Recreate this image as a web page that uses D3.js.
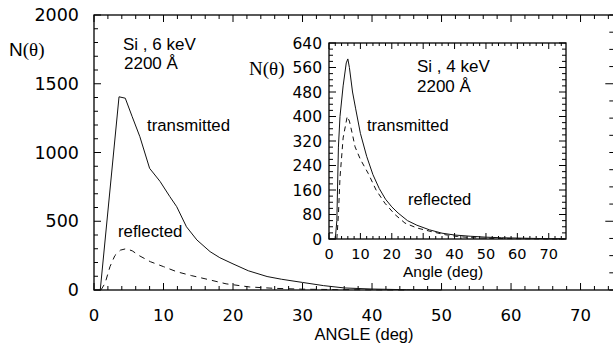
<!DOCTYPE html>
<html>
<head>
<meta charset="utf-8">
<script src="https://cdn.jsdelivr.net/npm/d3@7"></script>
<style>
  html, body { margin: 0; padding: 0; background: #fff; }
  svg { display: block; font-family: "Liberation Sans", Arial, sans-serif; }
  .num { font-family: "DejaVu Sans", sans-serif; }
</style>
</head>
<body>
<svg id="chart" width="613" height="347"></svg>
<script>
// Angular distribution N(θ) of sputtered/scattered particles, Si target, 2200 Å
// Main panel: 6 keV ; inset: 4 keV.  Each series is [angle (deg), N(θ)].
const mainTransmitted = [
  [0, 0], [0.9, 0], [3.6, 1405], [4.5, 1395], [5.5, 1260], [6.6, 1115], [8, 885],
  [9.5, 790], [10.9, 680], [11.9, 606], [13.3, 460], [14.8, 364], [16.7, 279],
  [18.1, 235], [20, 190], [22.2, 140], [24.9, 98], [27, 78], [30, 55], [33, 32],
  [36, 15], [40, 7], [45, 2], [50, 0]
];
const mainReflected = [
  [1.0, 0], [1.6, 50], [2.3, 170], [3, 250], [3.8, 290], [4.6, 300], [5.5, 285],
  [6.5, 250], [8.1, 206], [10, 170], [11.9, 133], [14, 105], [16.7, 73], [19, 45],
  [22.4, 22], [26, 12], [30, 6], [35, 3], [40, 1], [45, 0]
];
const insetTransmitted = [
  [0, 0], [2, 0], [2.5, 60], [3, 300], [3.5, 400], [4.5, 500], [5.5, 575], [6, 588],
  [6.5, 560], [7.5, 480], [8.5, 425], [10, 345], [12, 270], [14, 210], [16, 165],
  [18, 130], [20, 105], [22, 85], [25, 60], [28, 45], [32, 30], [36, 19], [40, 13],
  [45, 9], [50, 6], [55, 4], [60, 3], [65, 2], [70, 1], [75, 1]
];
const insetReflected = [
  [2.5, 0], [3, 80], [3.5, 200], [4.5, 330], [5.8, 400], [6.5, 385], [7.5, 340],
  [8.3, 301], [10, 260], [12.5, 214], [15, 160], [17.8, 117], [21, 80], [24.2, 52],
  [28, 36], [32.7, 24], [37, 14], [41, 8], [46, 4], [52, 2], [60, 1], [70, 0], [75, 0]
];

const mainXTicks = [0, 10, 20, 30, 40, 50, 60, 70];
const mainYTicks = [0, 500, 1000, 1500, 2000];
const insetXTicks = [0, 10, 20, 30, 40, 50, 60, 70];
const insetYTicks = [0, 80, 160, 240, 320, 400, 480, 560, 640];

const svg = d3.select("#chart");

// ---------- scales ----------
const x = d3.scaleLinear().domain([0, 75]).range([94, 615.3]);
const y = d3.scaleLinear().domain([0, 2000]).range([290, 15]);
const xi = d3.scaleLinear().domain([0, 75.5]).range([329, 566]);
const yi = d3.scaleLinear().domain([0, 640]).range([239, 43]);

const range = (a, b, s) => d3.range(a, b + s / 2, s);

// Draws inward-pointing ticks on one side of a frame
function ticks(g, values, pos, axisPos, dir, orient, isMajor, majLen, minLen, width) {
  g.selectAll(null).data(values).enter().append("line")
    .attr("stroke", "#000").attr("stroke-width", width)
    .each(function (v) {
      const len = isMajor(v) ? majLen : minLen;
      const p = pos(v);
      const s = d3.select(this);
      if (orient === "h") s.attr("x1", p).attr("x2", p).attr("y1", axisPos).attr("y2", axisPos + dir * len);
      else s.attr("y1", p).attr("y2", p).attr("x1", axisPos).attr("x2", axisPos + dir * len);
    });
}

const line = (sx, sy) => d3.line().x(d => sx(d[0])).y(d => sy(d[1]));

// ---------- main panel ----------
const gm = svg.append("g");
gm.append("rect")
  .attr("x", x(0)).attr("y", y(2000))
  .attr("width", x(75) - x(0)).attr("height", y(0) - y(2000))
  .attr("fill", "none").attr("stroke", "#000").attr("stroke-width", 1.3);

const maj10 = v => Math.abs(v % 10) < 1e-6;
ticks(gm, range(0, 74, 2), x, y(0), -1, "h", maj10, 7, 4, 1);
ticks(gm, range(0, 74, 2), x, y(2000), 1, "h", maj10, 7, 4, 1);
ticks(gm, range(0, 2000, 100), y, x(0), 1, "v", v => v % 500 === 0, 7, 4, 1);
ticks(gm, range(0, 2000, 125), y, x(75) - 2, -1, "v", v => v % 1000 === 500, 8, 4, 1);

gm.append("path").datum(mainTransmitted)
  .attr("d", line(x, y)).attr("fill", "none").attr("stroke", "#111").attr("stroke-width", 1);
gm.append("path").datum(mainReflected)
  .attr("d", line(x, y)).attr("fill", "none").attr("stroke", "#111").attr("stroke-width", 1)
  .attr("stroke-dasharray", "6,5");

gm.selectAll(".xl").data(mainXTicks).enter().append("text").attr("class", "num")
  .attr("x", d => x(d)).attr("y", 321).attr("text-anchor", "middle")
  .attr("font-size", 16.5).text(d => d);
gm.selectAll(".yl").data(mainYTicks).enter().append("text").attr("class", "num")
  .attr("x", 79).attr("y", d => y(d) + 6).attr("text-anchor", "end")
  .attr("font-size", 17.5).text(d => d);

gm.append("text").attr("x", 364).attr("y", 340).attr("text-anchor", "middle")
  .attr("font-size", 16.5).text("ANGLE (deg)");
const nm = gm.append("text").attr("x", 9).attr("y", 56).attr("font-size", 19);
nm.append("tspan").text("N");
nm.append("tspan").attr("font-family", "Liberation Serif, serif").text("(θ)");

gm.append("text").attr("x", 123).attr("y", 50).attr("font-size", 17).text("Si , 6 keV");
gm.append("text").attr("x", 124).attr("y", 69).attr("font-size", 17).text("2200 Å");
gm.append("text").attr("x", 147).attr("y", 131).attr("font-size", 16.8).text("transmitted");
gm.append("text").attr("x", 118).attr("y", 237).attr("font-size", 16.8).text("reflected");

// ---------- inset panel ----------
const gi = svg.append("g");
gi.append("rect")
  .attr("x", xi(0)).attr("y", yi(640))
  .attr("width", xi(75.5) - xi(0)).attr("height", yi(0) - yi(640))
  .attr("fill", "#fff").attr("stroke", "#000").attr("stroke-width", 1.3);

ticks(gi, range(0, 74, 2), xi, yi(0), -1, "h", maj10, 6, 3, 1);
ticks(gi, range(0, 74, 2), xi, yi(640), 1, "h", maj10, 6, 3, 1);
ticks(gi, range(0, 640, 20), yi, xi(0), 1, "v", v => v % 80 === 0, 7, 4, 1);
ticks(gi, range(0, 640, 20), yi, xi(75.5), -1, "v", v => v % 80 === 0, 7, 4, 1);

gi.append("path").datum(insetTransmitted)
  .attr("d", line(xi, yi)).attr("fill", "none").attr("stroke", "#111").attr("stroke-width", 1);
gi.append("path").datum(insetReflected)
  .attr("d", line(xi, yi)).attr("fill", "none").attr("stroke", "#111").attr("stroke-width", 1)
  .attr("stroke-dasharray", "5,4");

gi.selectAll(".xl").data(insetXTicks).enter().append("text").attr("class", "num")
  .attr("x", d => xi(d)).attr("y", 259).attr("text-anchor", "middle")
  .attr("font-size", 14.5).text(d => d);
gi.selectAll(".yl").data(insetYTicks).enter().append("text").attr("class", "num")
  .attr("x", 322).attr("y", d => yi(d) + 5.5).attr("text-anchor", "end")
  .attr("font-size", 15.5).text(d => d);

gi.append("text").attr("x", 443).attr("y", 277).attr("text-anchor", "middle")
  .attr("font-size", 15.5).text("Angle (deg)");
gi.append("text").attr("x", 249).attr("y", 75).attr("font-size", 19)
  .attr("font-family", "Liberation Serif, serif").text("N(θ)");

gi.append("text").attr("x", 417).attr("y", 72).attr("font-size", 17).text("Si , 4 keV");
gi.append("text").attr("x", 417).attr("y", 92).attr("font-size", 17).text("2200 Å");
gi.append("text").attr("x", 367).attr("y", 131).attr("font-size", 16.5).text("transmitted");
gi.append("text").attr("x", 408).attr("y", 205).attr("font-size", 16.5).text("reflected");
</script>
</body>
</html>
